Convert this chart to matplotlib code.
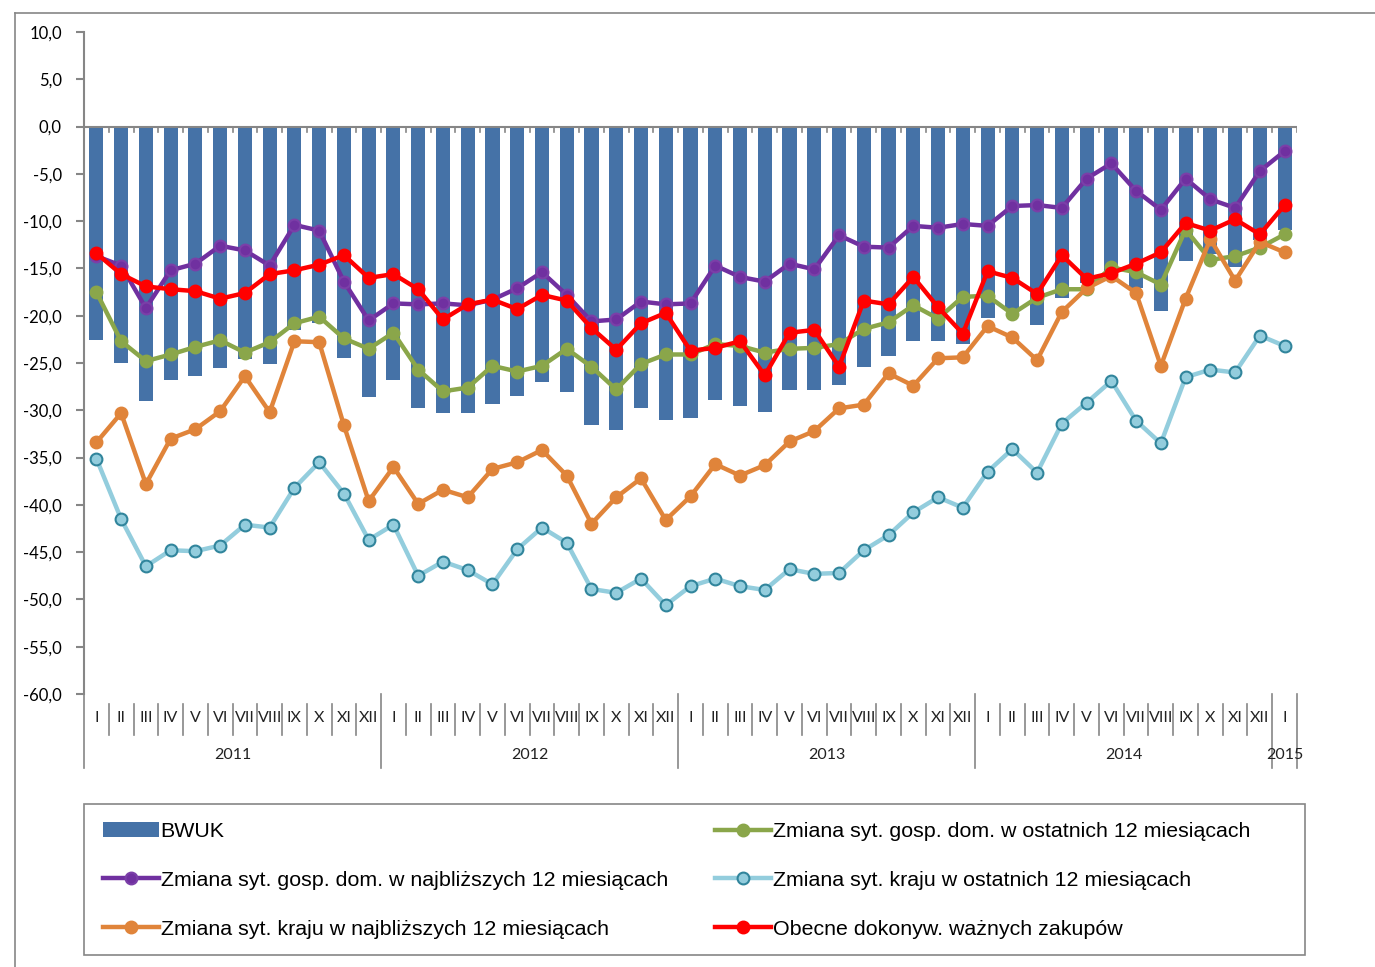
import matplotlib
matplotlib.use("Agg")
import matplotlib.pyplot as plt
from matplotlib.patches import Rectangle
from matplotlib.lines import Line2D
import matplotlib.transforms as mtransforms

# months Jan 2011 - Jan 2015
months = ["I", "II", "III", "IV", "V", "VI", "VII", "VIII", "IX", "X", "XI", "XII"] * 4 + ["I"]
years = ["2011", "2012", "2013", "2014", "2015"]

bwuk = [-22.6, -25.0, -29.0, -26.8, -26.4, -25.5, -24.6, -25.1, -21.5, -20.8, -24.5, -28.6,
        -26.8, -29.8, -30.3, -30.3, -29.3, -28.5, -27.0, -28.1, -31.6, -32.1, -29.8, -31.0,
        -30.8, -28.9, -29.5, -30.2, -27.9, -27.9, -27.3, -25.4, -24.3, -22.7, -22.7, -23.0,
        -20.2, -19.5, -21.0, -18.1, -16.5, -15.3, -17.1, -19.5, -14.2, -13.5, -14.9, -12.0, -10.9]

gosp_ostatnie = [-17.5, -22.7, -24.8, -24.1, -23.3, -22.6, -23.9, -22.8, -20.8, -20.1, -22.4, -23.5,
                 -21.8, -25.7, -28.0, -27.6, -25.3, -25.9, -25.3, -23.5, -25.4, -27.8, -25.1, -24.1,
                 -24.1, -23.0, -23.2, -23.9, -23.5, -23.4, -23.0, -21.4, -20.7, -18.9, -20.3, -18.0,
                 -17.9, -19.8, -18.1, -17.2, -17.2, -14.9, -15.4, -16.7, -10.9, -14.1, -13.7, -12.8, -11.4]

gosp_najbl = [-13.7, -14.7, -19.2, -15.2, -14.5, -12.6, -13.1, -14.7, -10.4, -11.0, -16.4, -20.5,
              -18.7, -18.8, -18.7, -18.9, -18.3, -17.1, -15.4, -17.8, -20.6, -20.4, -18.5, -18.8,
              -18.7, -14.7, -15.9, -16.4, -14.5, -15.1, -11.5, -12.7, -12.8, -10.5, -10.7, -10.3,
              -10.5, -8.4, -8.3, -8.6, -5.5, -3.9, -6.8, -8.8, -5.5, -7.7, -8.6, -4.7, -2.6]

kraj_ostatnie = [-35.1, -41.5, -46.5, -44.8, -44.9, -44.3, -42.1, -42.4, -38.2, -35.5, -38.8, -43.7,
                 -42.1, -47.5, -46.0, -46.9, -48.4, -44.7, -42.4, -44.0, -48.9, -49.3, -47.8, -50.6,
                 -48.6, -47.8, -48.6, -49.0, -46.8, -47.3, -47.2, -44.8, -43.2, -40.8, -39.2, -40.3,
                 -36.5, -34.1, -36.6, -31.4, -29.2, -26.9, -31.1, -33.5, -26.5, -25.7, -26.0, -22.1, -23.2]

kraj_najbl = [-33.4, -30.3, -37.8, -33.0, -32.0, -30.1, -26.4, -30.2, -22.7, -22.8, -31.6, -39.6,
              -36.0, -39.9, -38.4, -39.2, -36.2, -35.5, -34.2, -36.9, -42.0, -39.2, -37.2, -41.6,
              -39.1, -35.7, -36.9, -35.8, -33.3, -32.2, -29.8, -29.4, -26.1, -27.4, -24.5, -24.4,
              -21.1, -22.3, -24.7, -19.6, -17.1, -15.8, -17.6, -25.3, -18.2, -11.9, -16.3, -12.2, -13.3]

zakupy = [-13.4, -15.6, -16.9, -17.2, -17.4, -18.2, -17.6, -15.6, -15.2, -14.6, -13.6, -16.0,
          -15.6, -17.2, -20.4, -18.8, -18.3, -19.3, -17.8, -18.4, -21.3, -23.6, -20.8, -19.7,
          -23.7, -23.4, -22.7, -26.3, -21.8, -21.5, -25.4, -18.4, -18.8, -15.9, -19.1, -21.9,
          -15.3, -16.0, -17.7, -13.6, -16.1, -15.5, -14.5, -13.3, -10.2, -11.0, -9.8, -11.4, -8.3]

labels = ["BWUK",
          "Zmiana syt. gosp. dom. w ostatnich 12 miesiącach",
          "Zmiana syt. gosp. dom. w najbliższych 12 miesiącach",
          "Zmiana syt. kraju w ostatnich 12 miesiącach",
          "Zmiana syt. kraju w najbliższych 12 miesiącach",
          "Obecne dokonyw. ważnych zakupów"]

W, H = 1375, 967
fig = plt.figure(figsize=(W / 100, H / 100), dpi=100)
ax = fig.add_axes([84 / W, 1 - 694 / H, (1297 - 84) / W, (694 - 32) / H])

grey = "#868686"
x = list(range(len(months)))

bars = ax.bar(x, bwuk, width=0.57, color="#4572A7", zorder=2)

series = [
    (gosp_ostatnie, "#8AA64A", "#8AA64A", "#8AA64A"),
    (gosp_najbl, "#7030A0", "#7030A0", "#7B3FA8"),
    (kraj_ostatnie, "#93CDDD", "#93CDDD", "#31859C"),
    (kraj_najbl, "#E0843A", "#E0843A", "#E0843A"),
    (zakupy, "#FF0000", "#FF0000", "#FF0000"),
]
handles = [bars]
for vals, lc, fc, ec in series:
    ln, = ax.plot(x, vals, color=lc, lw=3.2, marker="o", markersize=8.5,
                  markerfacecolor=fc, markeredgecolor=ec, markeredgewidth=1.5, zorder=3)
    handles.append(ln)

ax.set_xlim(-0.5, len(months) - 0.5)
ax.set_ylim(-60, 10)
ax.set_yticks(range(-60, 11, 5))
ax.set_yticklabels([f"{v},0" for v in range(-60, 11, 5)], fontsize=12, family="Lato")
ax.tick_params(axis="y", direction="out", length=6, color=grey, width=1.5, pad=10)
ax.set_xticks([])
for s in ["top", "right", "bottom"]:
    ax.spines[s].set_visible(False)
ax.spines["left"].set_color(grey)
ax.spines["left"].set_linewidth(1.5)

# zero line with small ticks at month boundaries
ax.axhline(0, color=grey, lw=1.5, zorder=4)
for b in range(len(months) + 1):
    ax.plot([b - 0.5, b - 0.5], [0, -0.6], color=grey, lw=1.2, zorder=4)

# category axis below the plot
tr = mtransforms.blended_transform_factory(ax.transData, ax.transAxes)
ah = 694 - 32
for i, m in enumerate(months):
    ax.text(i, -(718 - 694) / ah, m, transform=tr, ha="center", va="center",
            fontsize=11.5, family="Lato", color="#222222")
for b in range(len(months) + 1):
    yr_edge = (b % 12 == 0) or b == len(months)
    y0 = 0 if yr_edge else -(704 - 694) / ah
    y1 = -(768 - 694) / ah if yr_edge else -(735 - 694) / ah
    ax.add_line(Line2D([b - 0.5, b - 0.5], [y0, y1], transform=tr, color=grey,
                       lw=1.2, clip_on=False))
for k, yr in enumerate(years):
    start = k * 12
    end = min(start + 11, len(months) - 1)
    ax.text((start + end) / 2, -(755 - 694) / ah, yr, transform=tr, ha="center",
            va="center", fontsize=11.5, family="Lato", color="#222222")

# chart area border
fig.add_artist(Line2D([15 / W, 15 / W], [0, 1 - 13 / H], transform=fig.transFigure,
                      color=grey, lw=1.2))
fig.add_artist(Line2D([15 / W, 1], [1 - 13 / H, 1 - 13 / H], transform=fig.transFigure,
                      color=grey, lw=1.2))

# legend box
fig.add_artist(Rectangle((84 / W, 1 - 955 / H), (1305 - 84) / W, (955 - 804) / H,
                         transform=fig.transFigure, fill=False, edgecolor=grey, lw=1.2))
leg_kw = dict(frameon=False, handlelength=2.6, handletextpad=0.1,
              labelspacing=1.4, borderpad=0, borderaxespad=0,
              prop={"family": "Liberation Sans", "size": 15.4})
l1 = fig.legend([handles[0], handles[2], handles[4]], [labels[0], labels[2], labels[4]],
                loc="upper left", bbox_to_anchor=(103 / W, 1 - 822 / H), **leg_kw)
l2 = fig.legend([handles[1], handles[3], handles[5]], [labels[1], labels[3], labels[5]],
                loc="upper left", bbox_to_anchor=(715 / W, 1 - 822 / H), **leg_kw)

fig.savefig("out.png", dpi=100)
